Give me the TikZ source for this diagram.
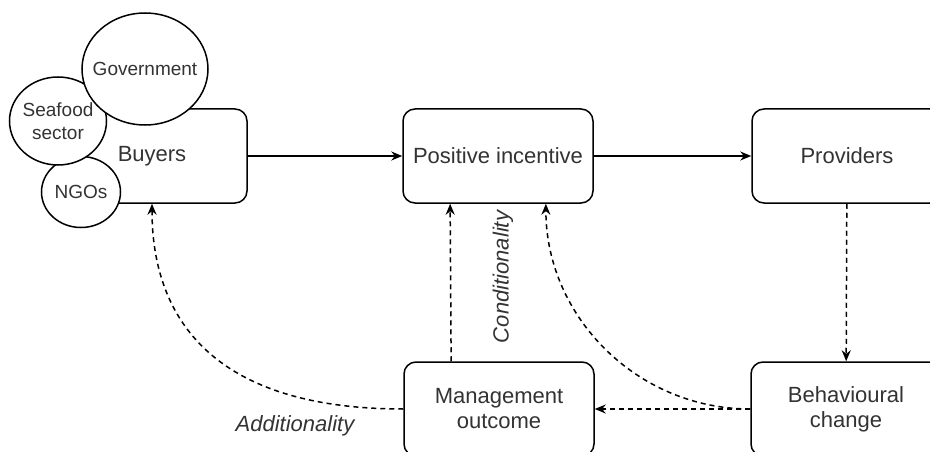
\documentclass[tikz,border=0pt]{standalone}
\usepackage{fontspec}
\setmainfont{Liberation Sans}
\usetikzlibrary{arrows.meta,shapes.geometric,calc}
\definecolor{txtgray}{HTML}{333333}

\begin{document}
\begin{tikzpicture}[x=1pt, y=1pt, line width=1.5pt,
  box/.style={draw, fill=white, rounded corners=12pt, minimum width=190pt, minimum height=94pt,
    align=center, text=txtgray, font=\fontsize{22}{25}\selectfont},
  actor/.style={draw, fill=white, ellipse, inner sep=0pt},
  actortext/.style={text=txtgray, align=center, font=\fontsize{19}{22.5}\selectfont},
  flow/.style={-{Stealth[length=11pt,width=9pt]}},
  feedback/.style={flow, dash pattern=on 5pt off 4pt},
  lbl/.style={text=txtgray, font=\fontsize{22}{25}\selectfont\itshape}]
\useasboundingbox (0,0) rectangle (930,-452);

% main chain
\node[box] (buyers) at (152,-156) {Buyers};
\node[box] (incentive) at (498,-156) {Positive incentive};
\node[box] (providers) at (847,-156) {Providers};
\node[box] (mgmt) at (499,-409) {Management\\outcome};
\node[box] (behaviour) at (846,-409) {Behavioural\\change};

% who pays
\node[actor, minimum width=79pt, minimum height=71pt, label={[actortext]center:NGOs}] (ngos) at (81,-192) {};
\node[actor, minimum width=97pt, minimum height=88pt, label={[actortext]center:{Seafood\\sector}}] (seafood) at (58,-121) {};
\node[actor, minimum width=126pt, minimum height=112pt, label={[actortext]center:Government}] (govt) at (145,-69) {};

\draw[flow] (buyers) -- (incentive);
\draw[flow] (incentive) -- (providers);
\draw[feedback] (providers) -- (behaviour);
\draw[feedback] (behaviour) -- (mgmt);
\draw[feedback] ($(mgmt.north west)!0.25!(mgmt.north east)$) -- ($(incentive.south west)!0.25!(incentive.south east)$);
\draw[feedback] (behaviour.west) to[out=180, in=-90] ($(incentive.south west)!0.75!(incentive.south east)$);
\draw[feedback] (mgmt.west) .. controls +(-190,0) and +(0,-115) .. (buyers.south);

\node[lbl, rotate=90] (cond) at (503,-277) {Conditionality};
\node[lbl] (addit) at (295,-426) {Additionality};
\end{tikzpicture}
\end{document}
